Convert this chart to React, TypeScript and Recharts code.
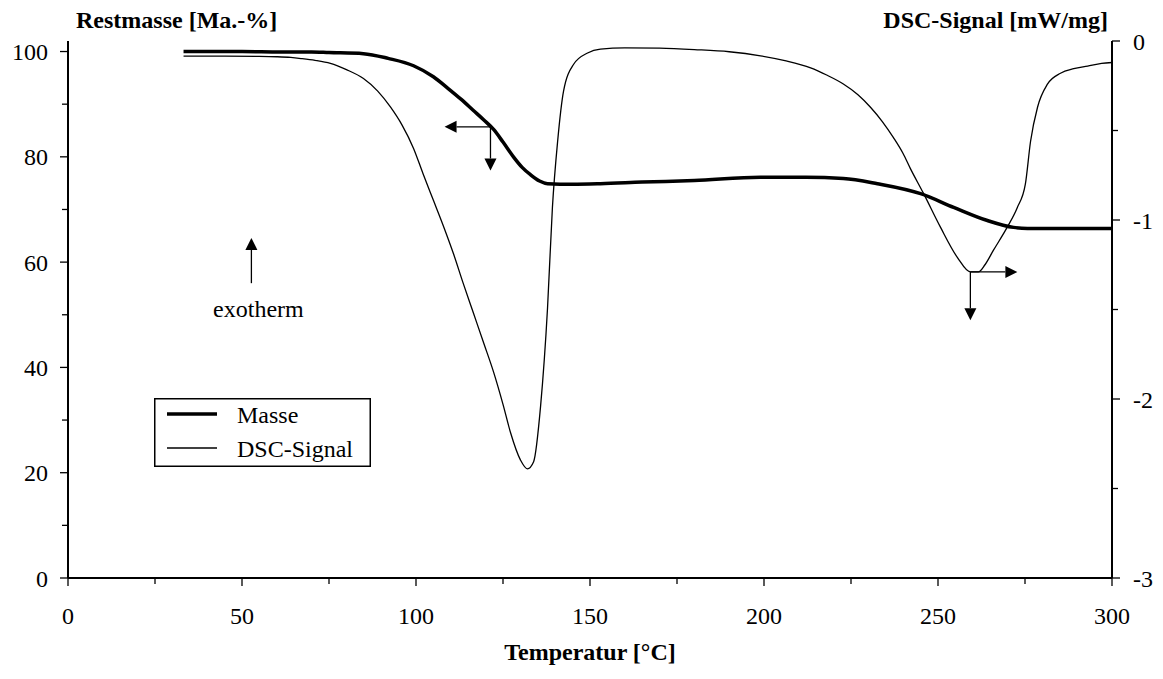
import React from 'react';
import { LineChart, Line, XAxis, YAxis, ReferenceLine, Legend } from 'recharts';

const FONT = '"Liberation Serif", "Times New Roman", serif';

// Temperature [°C] / Restmasse [Ma.-%]
const massTemp = [33.2, 50, 61, 70, 75, 84.9, 92, 99.3, 105, 109, 113, 116.5, 119.5, 122.3, 125, 128, 130.5, 132.9, 135.5, 137.8, 145, 153, 165, 180, 199, 212, 222.8, 232.6, 245, 254.5, 264.2, 271.7, 275.7, 285, 300];
const massValue = [100, 100, 99.9, 99.9, 99.8, 99.6, 98.7, 97.3, 95.2, 93.1, 90.9, 88.8, 87.0, 85.2, 82.8, 80.0, 78.0, 76.6, 75.4, 74.9, 74.8, 74.9, 75.2, 75.5, 76.1, 76.1, 75.9, 74.9, 73.0, 70.4, 67.9, 66.6, 66.4, 66.4, 66.4];

// Temperature [°C] / DSC-Signal [mW/mg]
const dscTemp = [33.2, 45, 55, 60, 64, 67, 71, 75.4, 80, 84.9, 89, 92.7, 96, 99.3, 102, 105, 108, 110.8, 113.5, 116.5, 119.5, 122.3, 125, 127.2, 130, 132, 133.8, 135.8, 137.8, 139.2, 140.7, 142.4, 145.3, 149.3, 153, 160, 170, 180, 190, 199, 206, 213.4, 218, 222.8, 227, 230.6, 234, 237.2, 240, 242, 245.8, 250.7, 255.6, 259.3, 261.6, 263.5, 265.9, 269.9, 272.8, 275.1, 276.6, 278.6, 281.5, 285.2, 289, 293, 297, 300];
const dscValue = [-0.085, -0.085, -0.086, -0.088, -0.092, -0.098, -0.108, -0.125, -0.16, -0.21, -0.28, -0.37, -0.47, -0.6, -0.74, -0.89, -1.04, -1.19, -1.35, -1.52, -1.69, -1.85, -2.03, -2.19, -2.34, -2.39, -2.35, -2.04, -1.49, -0.93, -0.56, -0.28, -0.13, -0.067, -0.045, -0.038, -0.04, -0.048, -0.06, -0.083, -0.11, -0.15, -0.19, -0.24, -0.3, -0.37, -0.45, -0.54, -0.63, -0.71, -0.85, -1.04, -1.21, -1.29, -1.29, -1.25, -1.17, -1.04, -0.93, -0.8, -0.56, -0.37, -0.24, -0.18, -0.155, -0.14, -0.125, -0.12];

const xTicks = [0, 25, 50, 75, 100, 125, 150, 175, 200, 225, 250, 275, 300];
const leftTicks = [0, 10, 20, 30, 40, 50, 60, 70, 80, 90, 100];
const rightTicks = [-3, -2.5, -2, -1.5, -1, -0.5, 0];

const legendOrder = ['Masse', 'DSC-Signal'];

// Annotation arrows (data coordinates)
const massArrowOrigin = { t: 121.4, v: 85.7 };
const massArrowLeftT = 108.2;
const massArrowDownV = 77.4;
const dscArrowOrigin = { t: 259.3, v: -1.29 };
const dscArrowRightT = 272.8;
const dscArrowDownV = -1.56;
const exoArrow = { t: 52.7, from: 56.0, to: 64.6 };
const exoText = 'exotherm';

const massData = massTemp.map((t, i) => ({ t, v: massValue[i] }));
const dscData = dscTemp.map((t, i) => ({ t, v: dscValue[i] }));

const TICK_SIZE = 8;
const MINOR_SIZE = 6;

const BottomTick = (props: any) => {
  const { x, y, payload } = props;
  const v = payload.value;
  const major = v % 50 === 0;
  const axisY = y - TICK_SIZE - 21;
  return (
    <g>
      <line x1={x} x2={x} y1={axisY} y2={axisY + (major ? TICK_SIZE : MINOR_SIZE)} stroke="#000" strokeWidth={1.3} />
      {major && (
        <text x={x} y={y} dy="0.71em" textAnchor="middle" fontFamily={FONT} fontSize={24} fill="#000">{v}</text>
      )}
    </g>
  );
};

const LeftTick = (props: any) => {
  const { x, y, payload } = props;
  const v = payload.value;
  const major = v % 20 === 0;
  const axisX = x + 12 + TICK_SIZE;
  return (
    <g>
      <line x1={axisX - (major ? TICK_SIZE : MINOR_SIZE)} x2={axisX} y1={y} y2={y} stroke="#000" strokeWidth={1.3} />
      {major && (
        <text x={x} y={y} dy="0.36em" textAnchor="end" fontFamily={FONT} fontSize={24} fill="#000">{v}</text>
      )}
    </g>
  );
};

const RightTick = (props: any) => {
  const { x, y, payload } = props;
  const v = payload.value;
  const major = Number.isInteger(v);
  const axisX = x - 13 - TICK_SIZE;
  return (
    <g>
      <line x1={axisX} x2={axisX + (major ? TICK_SIZE : MINOR_SIZE)} y1={y} y2={y} stroke="#000" strokeWidth={1.3} />
      {major && (
        <text x={x} y={y} dy="0.36em" textAnchor="start" fontFamily={FONT} fontSize={24} fill="#000">{String(v)}</text>
      )}
    </g>
  );
};

const arrowShape = (props: any) => {
  const { x1, y1, x2, y2 } = props;
  const X1 = Number(x1), Y1 = Number(y1), X2 = Number(x2), Y2 = Number(y2);
  const dx = X2 - X1, dy = Y2 - Y1;
  const L = Math.hypot(dx, dy) || 1;
  const ux = dx / L, uy = dy / L;
  const head = 12, half = 6;
  const bx = X2 - ux * head, by = Y2 - uy * head;
  const px = -uy, py = ux;
  return (
    <g>
      <line x1={X1} y1={Y1} x2={bx} y2={by} stroke="#000" strokeWidth={1.3} />
      <polygon points={`${X2},${Y2} ${bx + px * half},${by + py * half} ${bx - px * half},${by - py * half}`} fill="#000" />
    </g>
  );
};

const exoShape = (props: any) => {
  const { x1, y1 } = props;
  return (
    <g>
      {arrowShape(props)}
      <text x={Number(x1) + 7} y={Number(y1) + 34} textAnchor="middle" fontFamily={FONT} fontSize={24} fill="#000">{exoText}</text>
    </g>
  );
};

const LegendBox = (props: any) => {
  const payload = [...(props.payload || [])].sort(
    (a: any, b: any) => legendOrder.indexOf(a.value) - legendOrder.indexOf(b.value)
  );
  return (
    <svg width={217} height={69} style={{ display: 'block' }}>
      <rect x={0.75} y={0.75} width={215.5} height={67.5} fill="#fff" stroke="#000" strokeWidth={1.5} />
      {payload.map((entry: any, i: number) => {
        const sw = entry?.payload?.strokeWidth ?? 1.3;
        const cy = 16 + i * 34;
        return (
          <g key={i}>
            <line x1={13} x2={63} y1={cy} y2={cy} stroke="#000" strokeWidth={sw} />
            <text x={83} y={cy + 9} fontFamily={FONT} fontSize={24} fill="#000">{entry.value}</text>
          </g>
        );
      })}
    </svg>
  );
};

export default function App() {
  return (
    <div style={{ position: 'absolute', left: 0, top: 0, background: '#fff' }}>
      <LineChart width={1163} height={679} margin={{ top: 41, right: 0, bottom: 0, left: 0 }}>
        <XAxis
          xAxisId="top"
          orientation="top"
          type="number"
          dataKey="t"
          domain={[0, 300]}
          height={0}
          tick={false}
          tickLine={false}
          axisLine={{ stroke: '#000', strokeWidth: 2 }}
        />
        <XAxis
          type="number"
          dataKey="t"
          domain={[0, 300]}
          ticks={xTicks}
          interval={0}
          height={101}
          tickSize={TICK_SIZE}
          tickMargin={21}
          tickLine={false}
          tick={BottomTick}
          axisLine={{ stroke: '#000', strokeWidth: 2 }}
          label={{
            content: (p: any) => {
              const vb = p.viewBox || {};
              return (
                <text x={vb.x + vb.width / 2} y={vb.y + 82} textAnchor="middle" fontFamily={FONT} fontWeight="bold" fontSize={24} fill="#000">
                  Temperatur [°C]
                </text>
              );
            },
          }}
        />
        <YAxis
          yAxisId="left"
          orientation="left"
          type="number"
          domain={[0, 102]}
          ticks={leftTicks}
          interval={0}
          width={68}
          tickSize={TICK_SIZE}
          tickMargin={12}
          tickLine={false}
          tick={LeftTick}
          axisLine={{ stroke: '#000', strokeWidth: 2 }}
          label={{
            content: (p: any) => {
              const vb = p.viewBox || {};
              return (
                <text x={vb.x + vb.width + 8} y={vb.y - 13} textAnchor="start" fontFamily={FONT} fontWeight="bold" fontSize={24} fill="#000">
                  Restmasse [Ma.-%]
                </text>
              );
            },
          }}
        />
        <YAxis
          yAxisId="right"
          orientation="right"
          type="number"
          domain={[-3, 0]}
          ticks={rightTicks}
          interval={0}
          width={51}
          tickSize={TICK_SIZE}
          tickMargin={13}
          tickLine={false}
          tick={RightTick}
          axisLine={{ stroke: '#000', strokeWidth: 2 }}
          label={{
            content: (p: any) => {
              const vb = p.viewBox || {};
              return (
                <text x={vb.x - 4} y={vb.y - 13} textAnchor="end" fontFamily={FONT} fontWeight="bold" fontSize={24} fill="#000">
                  DSC-Signal [mW/mg]
                </text>
              );
            },
          }}
        />
        <Line
          yAxisId="left"
          data={massData}
          dataKey="v"
          name="Masse"
          type="monotone"
          stroke="#000"
          strokeWidth={3.5}
          dot={false}
          activeDot={false}
          isAnimationActive={false}
        />
        <Line
          yAxisId="right"
          data={dscData}
          dataKey="v"
          name="DSC-Signal"
          type="monotone"
          stroke="#000"
          strokeWidth={1.3}
          dot={false}
          activeDot={false}
          isAnimationActive={false}
        />
        <ReferenceLine
          yAxisId="left"
          segment={[{ x: massArrowOrigin.t, y: massArrowOrigin.v }, { x: massArrowLeftT, y: massArrowOrigin.v }]}
          shape={arrowShape}
        />
        <ReferenceLine
          yAxisId="left"
          segment={[{ x: massArrowOrigin.t, y: massArrowOrigin.v }, { x: massArrowOrigin.t, y: massArrowDownV }]}
          shape={arrowShape}
        />
        <ReferenceLine
          yAxisId="right"
          segment={[{ x: dscArrowOrigin.t, y: dscArrowOrigin.v }, { x: dscArrowRightT, y: dscArrowOrigin.v }]}
          shape={arrowShape}
        />
        <ReferenceLine
          yAxisId="right"
          segment={[{ x: dscArrowOrigin.t, y: dscArrowOrigin.v }, { x: dscArrowOrigin.t, y: dscArrowDownV }]}
          shape={arrowShape}
        />
        <ReferenceLine
          yAxisId="left"
          segment={[{ x: exoArrow.t, y: exoArrow.from }, { x: exoArrow.t, y: exoArrow.to }]}
          shape={exoShape}
        />
        <Legend
          layout="vertical"
          align="center"
          verticalAlign="middle"
          content={LegendBox}
          wrapperStyle={{ left: 154, top: 398, width: 217, height: 69 }}
        />
      </LineChart>
    </div>
  );
}
